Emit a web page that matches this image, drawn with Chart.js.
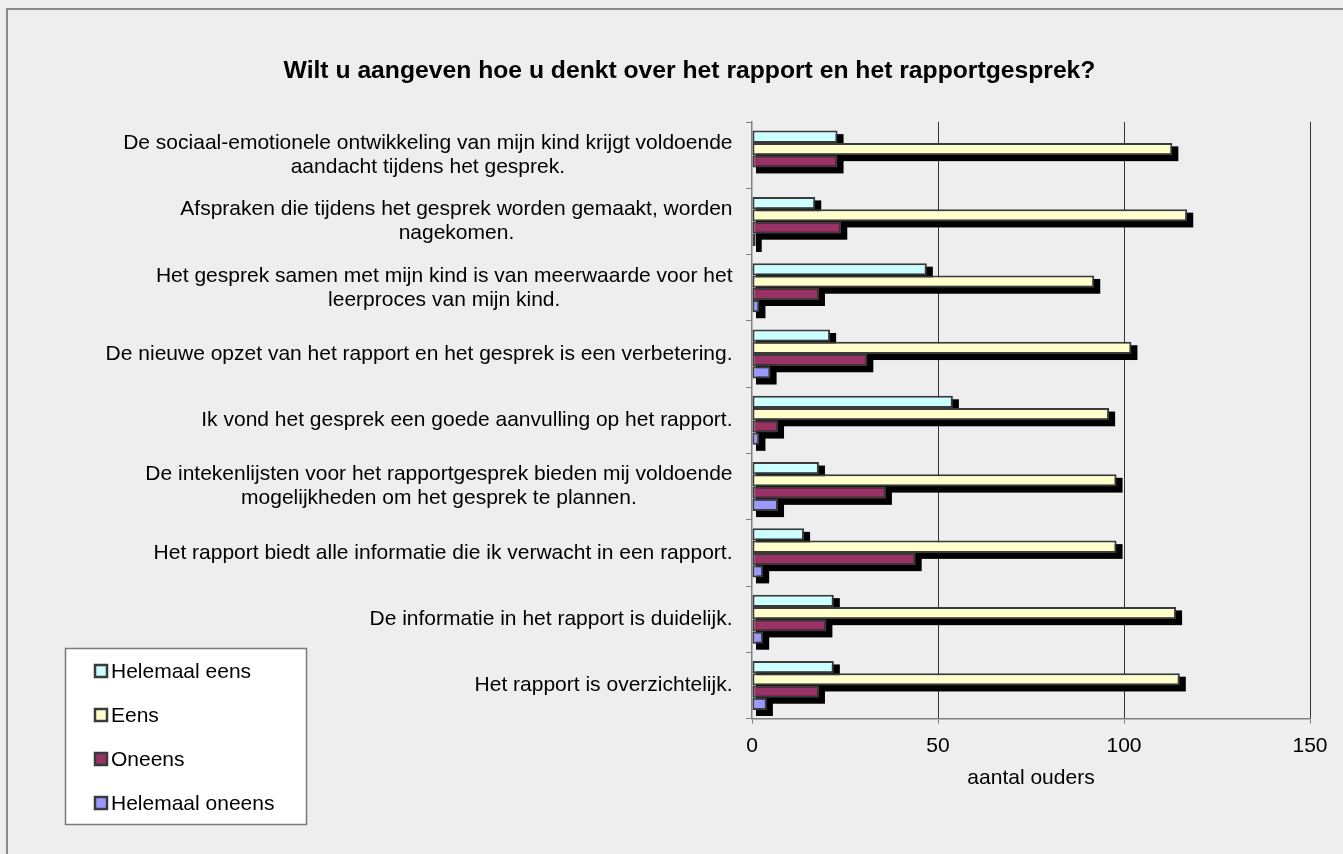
<!DOCTYPE html>
<html>
<head>
<meta charset="utf-8">
<script src="https://cdn.jsdelivr.net/npm/chart.js@4.4.1/dist/chart.umd.min.js"></script>
<style>
  html, body { margin: 0; padding: 0; background: #eeeeee; overflow: hidden; }
  #frame { position: absolute; left: 6px; top: 8px; width: 1400px; height: 900px; border: 2px solid #8a8a8a; box-sizing: border-box; }
  #wrap { position: absolute; left: 0; top: 0; width: 1343px; height: 854px; }
</style>
</head>
<body>
<div id="frame"></div>
<div id="wrap"><canvas id="myChart"></canvas></div>
<script>
const chartTitle = 'Wilt u aangeven hoe u denkt over het rapport en het rapportgesprek?';
const categories = [
    ['De sociaal-emotionele ontwikkeling van mijn kind krijgt voldoende', 'aandacht tijdens het gesprek.'],
    ['Afspraken die tijdens het gesprek worden gemaakt, worden', 'nagekomen.'],
    ['Het gesprek samen met mijn kind is van meerwaarde voor het', 'leerproces van mijn kind.'],
    ['De nieuwe opzet van het rapport en het gesprek is een verbetering.'],
    ['Ik vond het gesprek een goede aanvulling op het rapport.'],
    ['De intekenlijsten voor het rapportgesprek bieden mij voldoende', 'mogelijkheden om het gesprek te plannen.'],
    ['Het rapport biedt alle informatie die ik verwacht in een rapport.'],
    ['De informatie in het rapport is duidelijk.'],
    ['Het rapport is overzichtelijk.']
];
const seriesNames = ['Helemaal eens', 'Eens', 'Oneens', 'Helemaal oneens'];
const helemaalEens = [23, 17, 47, 21, 54, 18, 14, 22, 22];
const eens = [113, 117, 92, 102, 96, 98, 98, 114, 115];
const oneens = [23, 24, 18, 31, 7, 36, 44, 20, 18];
const helemaalOneens = [0, 1, 2, 5, 2, 7, 3, 3, 4];
const xTicks = [0, 50, 100, 150];
const xTitle = 'aantal ouders';

const colors = ['#ccffff', '#ffffcc', '#993366', '#9999ff'];
const FONT = '"Liberation Sans", Arial, sans-serif';

// black offset shadows under all bars, then the bars on top
const shadowPlugin = {
    id: 'shadows',
    beforeDatasetsDraw(chart) {
        const ctx = chart.ctx;
        ctx.save();
        ctx.fillStyle = '#000';
        chart.data.datasets.forEach((ds, i) => {
            chart.getDatasetMeta(i).data.forEach((bar, j) => {
                if (!ds.data[j]) return;
                const p = bar.getProps(['x', 'y', 'base', 'height'], true);
                const l = Math.min(p.x, p.base), r = Math.max(p.x, p.base);
                const t = p.y - p.height / 2, b = p.y + p.height / 2;
                ctx.fillRect(l + 3.5, t + 3.5, r - l + 2.5, b - t + 2.5);
            });
        });
        ctx.restore();
    }
};

// title, category labels (block right aligned, lines centred) and legend box
const textPlugin = {
    id: 'texts',
    afterDraw(chart) {
        const ctx = chart.ctx;
        const y = chart.scales.y;
        ctx.save();
        ctx.fillStyle = '#000';
        ctx.font = 'bold 24.7px ' + FONT;
        ctx.textAlign = 'center';
        ctx.textBaseline = 'alphabetic';
        ctx.fillText(chartTitle, 689.5, 78);

        ctx.font = '21px ' + FONT;
        ctx.textBaseline = 'middle';
        categories.forEach((lines, i) => {
            const cy = y.getPixelForValue(i);
            const w = Math.max(...lines.map(s => ctx.measureText(s).width));
            const cx = 732.5 - w / 2;
            lines.forEach((s, k) => {
                ctx.fillText(s, cx, cy + (k - (lines.length - 1) / 2) * 24);
            });
        });

        ctx.fillStyle = '#fff';
        ctx.strokeStyle = '#7a7a7a';
        ctx.lineWidth = 1.5;
        ctx.fillRect(65.5, 648.5, 241, 176);
        ctx.strokeRect(65.5, 648.5, 241, 176);
        ctx.textAlign = 'left';
        chart.data.datasets.forEach((ds, i) => {
            const ry = 671 + i * 44;
            ctx.fillStyle = ds.backgroundColor;
            ctx.strokeStyle = '#3a3a3a';
            ctx.lineWidth = 2.5;
            ctx.fillRect(95, ry - 6, 12, 12);
            ctx.strokeRect(95, ry - 6, 12, 12);
            ctx.fillStyle = '#000';
            ctx.fillText(ds.label, 111, ry + 1);
        });
        ctx.restore();
    }
};

const series = [helemaalEens, eens, oneens, helemaalOneens];

const ctx = document.getElementById('myChart').getContext('2d');
const myChart = new Chart(ctx, {
    type: 'bar',
    data: {
        labels: categories,
        datasets: series.map((values, i) => ({
            label: seriesNames[i],
            data: values,
            backgroundColor: colors[i],
            borderColor: '#3a3a3a',
            borderWidth: 2,
            borderSkipped: false,
            categoryPercentage: 0.74,
            barPercentage: 1.0
        }))
    },
    options: {
        indexAxis: 'y',
        responsive: true,
        maintainAspectRatio: false,
        animation: false,
        layout: {
            padding: { top: 122, right: 33, bottom: 63, left: 0 }
        },
        plugins: {
            legend: { display: false },
            title: { display: false },
            tooltip: { enabled: false }
        },
        scales: {
            x: {
                min: 0,
                max: 150,
                afterBuildTicks: scale => {
                    scale.ticks = xTicks.map(v => ({ value: v }));
                },
                ticks: {
                    color: '#000',
                    padding: 10,
                    font: { family: FONT, size: 21 }
                },
                grid: {
                    color: c => (c.tick && c.tick.value === 0) ? 'rgba(0,0,0,0)' : '#333',
                    lineWidth: 1,
                    tickColor: '#808080',
                    tickLength: 5
                },
                border: { color: '#808080', width: 1.5 },
                title: {
                    display: true,
                    text: xTitle,
                    color: '#000',
                    font: { family: FONT, size: 21 },
                    padding: { top: -3, bottom: 0 }
                }
            },
            y: {
                afterFit: scale => { scale.width = 752; },
                ticks: { display: false },
                grid: {
                    drawOnChartArea: false,
                    offset: true,
                    color: '#808080',
                    tickLength: 6
                },
                border: { color: '#808080', width: 1.5 }
            }
        }
    },
    plugins: [shadowPlugin, textPlugin]
});
</script>
</body>
</html>
